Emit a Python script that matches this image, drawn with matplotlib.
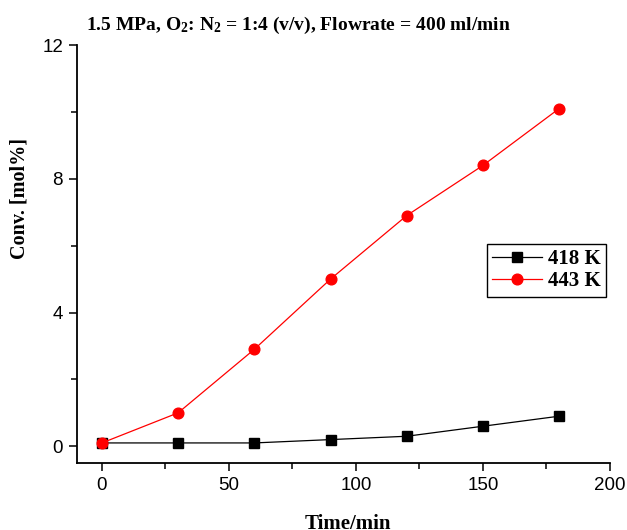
import numpy as np
import matplotlib
matplotlib.use("Agg")
import matplotlib.pyplot as plt
from matplotlib.ticker import MultipleLocator

plt.rcParams['mathtext.fontset'] = 'custom'
plt.rcParams['mathtext.rm'] = 'Liberation Serif:bold'
plt.rcParams['mathtext.default'] = 'rm'

# time on stream (min) and conversion (mol%)
time_min = [0, 30, 60, 90, 120, 150, 180]
conv_418 = [0.1, 0.1, 0.1, 0.2, 0.3, 0.6, 0.9]
conv_443 = [0.1, 1.0, 2.9, 5.0, 6.9, 8.4, 10.1]

fig = plt.figure(figsize=(6.27, 5.30), dpi=100)
ax = fig.add_axes([77/627, 1-463/530, 533/627, 418/530])

ax.plot(time_min, conv_418, color='black', lw=0.9, marker='s', ms=6.5, label='418 K')
ax.plot(time_min, conv_443, color='red', lw=0.9, marker='o', ms=7.7, label='443 K')

ax.set_xlim(-9.8, 200)
ax.set_ylim(-0.5, 12)
ax.xaxis.set_major_locator(MultipleLocator(50))
ax.xaxis.set_minor_locator(MultipleLocator(25))
ax.yaxis.set_major_locator(MultipleLocator(4))
ax.yaxis.set_minor_locator(MultipleLocator(2))

for s in ['top', 'right']:
    ax.spines[s].set_visible(False)
for s in ['left', 'bottom']:
    ax.spines[s].set_linewidth(1.3)

ax.tick_params(which='both', direction='out', width=1.1)
ax.tick_params(which='major', length=6, labelsize=13.5, pad=4)
ax.tick_params(which='minor', length=4)
for lab in ax.get_xticklabels() + ax.get_yticklabels():
    lab.set_fontfamily('Liberation Sans')

ax.set_xlabel('Time/min', fontfamily='Liberation Serif', fontweight='bold', fontsize=15)
ax.set_ylabel('Conv. [mol%]', fontfamily='Liberation Serif', fontweight='bold', fontsize=14.5)
ax.xaxis.label.set_va('center')
ax.yaxis.label.set_va('center')
ax.xaxis.set_label_coords(0.508, -0.145)
ax.yaxis.set_label_coords(-0.107, 0.632)

fig.text(86/627, 1-25/530, r'1.5 MPa, O$_2$: N$_2$ = 1:4 (v/v), Flowrate = 400 ml/min',
         fontfamily='Liberation Serif', fontweight='bold', fontsize=14, va='center', ha='left')

leg = ax.legend(loc='upper left', bbox_to_anchor=(487/627, 1-244/530),
                bbox_transform=fig.transFigure, borderaxespad=0,
                fancybox=False, edgecolor='black', framealpha=1,
                prop={'family': 'Liberation Serif', 'weight': 'bold', 'size': 15},
                handlelength=2.4, handletextpad=0.3, labelspacing=0.1, borderpad=0.25)
leg.get_frame().set_linewidth(1.0)

fig.savefig('out.png', dpi=100)
